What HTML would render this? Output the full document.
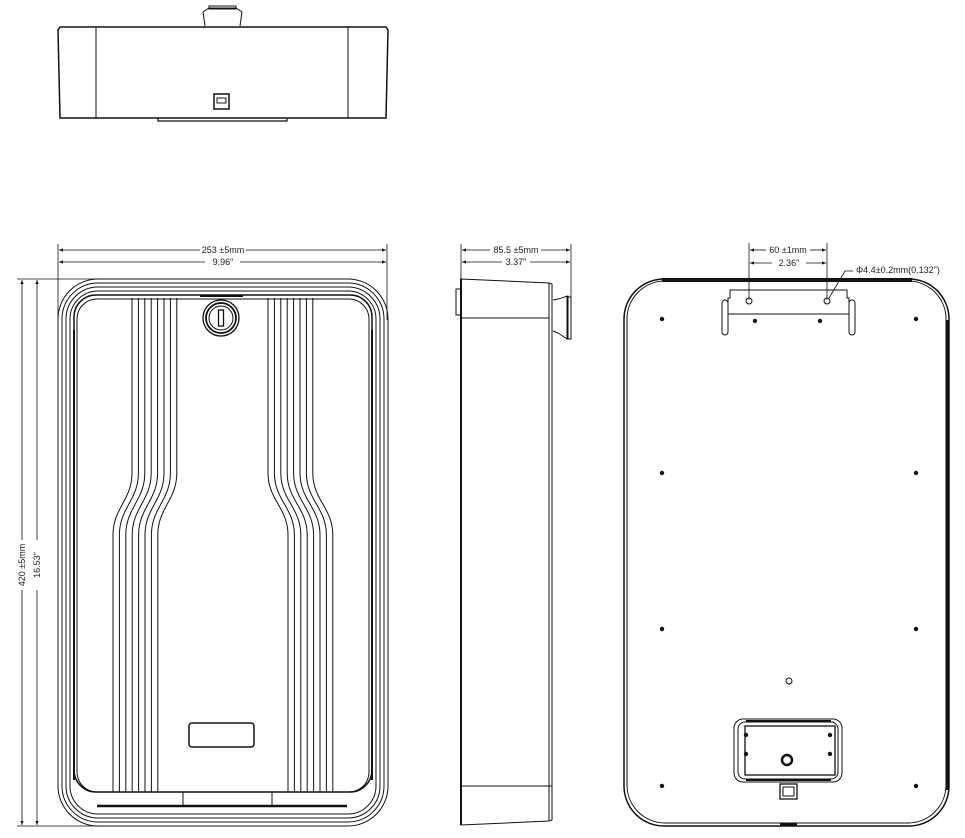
<!DOCTYPE html>
<html><head><meta charset="utf-8"><style>
html,body{margin:0;padding:0;background:#fff;}
svg{display:block;}
text{font-family:"Liberation Sans",sans-serif;font-size:9px;fill:#222;}
</style></head><body>
<svg width="965" height="838" viewBox="0 0 965 838" xmlns="http://www.w3.org/2000/svg">
<defs>
<marker id="ar" viewBox="0 0 10 10" refX="10" refY="5" markerWidth="7" markerHeight="5" orient="auto-start-reverse"><path d="M0,1 L10,5 L0,9 z" fill="#111"/></marker>
</defs>
<g fill="none" stroke="#111" stroke-width="1">
<!-- TOP VIEW -->
<path d="M60,27 L386,27 L388,30 L386,118 L60,118 L58,30 Z" stroke-width="1.5"/>
<line x1="96" y1="27" x2="96" y2="118"/>
<line x1="348" y1="27" x2="348" y2="118"/>
<path d="M158,118 L158,121 L287,121 L287,118" stroke-width="1.2"/>
<path d="M205,26 L203,12 L209,8 L236,8 L242,12 L240,26" />
<rect x="209" y="6" width="27" height="3"/>
<rect x="214" y="94" width="15" height="15" stroke-width="1.5"/>
<rect x="217" y="98" width="9" height="5"/>
<!-- FRONT VIEW DIMENSIONS -->
<line x1="58" y1="244" x2="58" y2="320" stroke-width="0.8"/>
<line x1="387" y1="244" x2="387" y2="320" stroke-width="0.8"/>
<line x1="59" y1="250" x2="200" y2="250" marker-start="url(#ar)" stroke-width="0.8"/>
<line x1="246" y1="250" x2="386" y2="250" marker-end="url(#ar)" stroke-width="0.8"/>
<line x1="59" y1="262" x2="205" y2="262" marker-start="url(#ar)" stroke-width="0.8"/>
<line x1="240" y1="262" x2="386" y2="262" marker-end="url(#ar)" stroke-width="0.8"/>
<line x1="17" y1="279" x2="155" y2="279" stroke-width="0.8"/>
<line x1="17" y1="826" x2="100" y2="826" stroke-width="0.8"/>
<line x1="22" y1="280" x2="22" y2="540" marker-start="url(#ar)" stroke-width="0.8"/>
<line x1="22" y1="590" x2="22" y2="825" marker-end="url(#ar)" stroke-width="0.8"/>
<line x1="37" y1="280" x2="37" y2="540" marker-start="url(#ar)" stroke-width="0.8"/>
<line x1="37" y1="590" x2="37" y2="825" marker-end="url(#ar)" stroke-width="0.8"/>
<!-- FRONT VIEW BODY -->
<rect x="58" y="279" width="330" height="547" rx="40"/>
<rect x="62" y="283" width="322" height="539" rx="36"/>
<rect x="66" y="287" width="314" height="531" rx="32"/>
<rect x="70" y="291" width="306" height="523" rx="28"/>
<rect x="74" y="295" width="298" height="497" rx="22" stroke-width="1.5"/>
<rect x="77" y="299" width="292" height="493" rx="20"/>
<line x1="97" y1="806" x2="347" y2="806" stroke-width="2.5"/>
<line x1="183" y1="792" x2="183" y2="806"/>
<line x1="272" y1="792" x2="272" y2="806"/>
<line x1="74" y1="330" x2="74" y2="780" stroke-width="2"/>
<line x1="372" y1="330" x2="372" y2="780" stroke-width="2"/>
<!-- grooves left -->
<path d="M132,298V473C132,500 113,508 113,535V792"/>
<path d="M138.4,298V473C138.4,500 119.4,508 119.4,535V792"/>
<path d="M144.8,298V473C144.8,500 125.8,508 125.8,535V792"/>
<path d="M151.2,298V473C151.2,500 132.2,508 132.2,535V792"/>
<path d="M157.6,298V473C157.6,500 138.6,508 138.6,535V792"/>
<path d="M164,298V473C164,500 145,508 145,535V792"/>
<path d="M170.4,298V473C170.4,500 151.4,508 151.4,535V792"/>
<path d="M176.8,298V473C176.8,500 157.8,508 157.8,535V792"/>
<!-- grooves right -->
<path d="M268,298V473C268,500 288,508 288,535V792"/>
<path d="M274.4,298V473C274.4,500 294.4,508 294.4,535V792"/>
<path d="M280.8,298V473C280.8,500 300.8,508 300.8,535V792"/>
<path d="M287.2,298V473C287.2,500 307.2,508 307.2,535V792"/>
<path d="M293.6,298V473C293.6,500 313.6,508 313.6,535V792"/>
<path d="M300,298V473C300,500 320,508 320,535V792"/>
<path d="M306.4,298V473C306.4,500 326.4,508 326.4,535V792"/>
<path d="M312.8,298V473C312.8,500 332.8,508 332.8,535V792"/>
<!-- lock -->
<line x1="200" y1="296" x2="243" y2="296" stroke-width="2"/>
<circle cx="221" cy="318" r="18" stroke-width="1.3" fill="#fff"/>
<circle cx="221" cy="318" r="15" stroke-width="1.8"/>
<circle cx="221" cy="318" r="12"/>
<rect x="218.5" y="310" width="5" height="16" stroke-width="1.3"/>
<rect x="189" y="723" width="65" height="24" rx="3" stroke-width="1.5"/>
<!-- SIDE VIEW -->
<line x1="461" y1="244" x2="461" y2="285" stroke-width="0.8"/>
<line x1="571" y1="244" x2="571" y2="300" stroke-width="0.8"/>
<line x1="462" y1="250" x2="490" y2="250" marker-start="url(#ar)" stroke-width="0.8"/>
<line x1="541" y1="250" x2="570" y2="250" marker-end="url(#ar)" stroke-width="0.8"/>
<line x1="462" y1="262" x2="502" y2="262" marker-start="url(#ar)" stroke-width="0.8"/>
<line x1="530" y1="262" x2="570" y2="262" marker-end="url(#ar)" stroke-width="0.8"/>
<path d="M461,279 L549,283 L552,284 L552,820 L549,821 L461,825 Z"/>
<line x1="461" y1="279" x2="461" y2="825" stroke-width="2"/>
<line x1="549" y1="283" x2="549" y2="821"/>
<line x1="461" y1="318" x2="549" y2="318"/>
<line x1="461" y1="786" x2="552" y2="786"/>
<rect x="456" y="289" width="5" height="26"/>
<path d="M553,300 L558,299 C563,298 566,296 568,296 L568,339 C566,339 563,336 558,333 L553,331"/>
<rect x="567" y="297" width="4" height="42"/>
<!-- BACK VIEW -->
<line x1="749" y1="243" x2="749" y2="300" stroke-width="0.8"/>
<line x1="827" y1="243" x2="827" y2="300" stroke-width="0.8"/>
<line x1="750" y1="250" x2="766" y2="250" marker-start="url(#ar)" stroke-width="0.8"/>
<line x1="810" y1="250" x2="826" y2="250" marker-end="url(#ar)" stroke-width="0.8"/>
<line x1="750" y1="263" x2="772" y2="263" marker-start="url(#ar)" stroke-width="0.8"/>
<line x1="806" y1="263" x2="826" y2="263" marker-end="url(#ar)" stroke-width="0.8"/>
<path d="M829,298 L845,271 L853,271" stroke-width="0.8"/>
<rect x="624" y="279" width="325" height="547" rx="40" stroke-width="1.5"/>
<rect x="627" y="281" width="319" height="542" rx="38"/>
<line x1="662" y1="280" x2="912" y2="280" stroke-width="4"/>
<line x1="947" y1="320" x2="947" y2="790" stroke-width="3"/>
<line x1="780" y1="825" x2="797" y2="825" stroke-width="3"/>
<path d="M728,298 L730,298 L730,290 L847,290 L847,298 L849,298 L849,314 L728,314 Z"/>
<rect x="722" y="300" width="6" height="35" rx="3"/>
<rect x="849" y="300" width="6" height="35" rx="3"/>
<circle cx="749" cy="301" r="3"/>
<circle cx="827" cy="301" r="3"/>
<g fill="#111" stroke="none">
<circle cx="755" cy="321" r="2.2"/><circle cx="820" cy="321" r="2.2"/>
<circle cx="662" cy="319" r="2.2"/><circle cx="916" cy="319" r="2.2"/>
<circle cx="662" cy="473" r="2.2"/><circle cx="916" cy="473" r="2.2"/>
<circle cx="662" cy="629" r="2.2"/><circle cx="916" cy="629" r="2.2"/>
<circle cx="662" cy="786" r="2.2"/><circle cx="916" cy="786" r="2.2"/>
<circle cx="746" cy="735" r="2.2"/><circle cx="830" cy="735" r="2.2"/>
<circle cx="746" cy="754" r="2.2"/><circle cx="830" cy="754" r="2.2"/>
</g>
<circle cx="789" cy="681" r="3"/>
<rect x="734" y="719" width="108" height="63" rx="9"/>
<rect x="738" y="722" width="100" height="57" rx="7"/>
<rect x="745" y="726" width="90" height="49" stroke-width="1.3"/>
<line x1="746" y1="721" x2="831" y2="721" stroke-width="2"/>
<line x1="746" y1="780" x2="831" y2="780" stroke-width="2"/>
<circle cx="787" cy="760" r="5" stroke-width="2.5"/>
<rect x="780" y="784" width="17" height="15" stroke-width="1.3"/>
<rect x="783" y="787" width="11" height="9"/>
</g>
<text x="223" y="253" text-anchor="middle">253 ±5mm</text>
<text x="223" y="265" text-anchor="middle">9.96"</text>
<text x="516" y="253" text-anchor="middle">85.5 ±5mm</text>
<text x="516" y="265" text-anchor="middle">3.37"</text>
<text x="788" y="253" text-anchor="middle">60 ±1mm</text>
<text x="789" y="266" text-anchor="middle">2.36"</text>
<text x="856" y="273">Φ4.4±0.2mm(0.132")</text>
<text transform="translate(25,565) rotate(-90)" text-anchor="middle">420 ±5mm</text>
<text transform="translate(40,565) rotate(-90)" text-anchor="middle">16.53"</text>
</svg>
</body></html>
